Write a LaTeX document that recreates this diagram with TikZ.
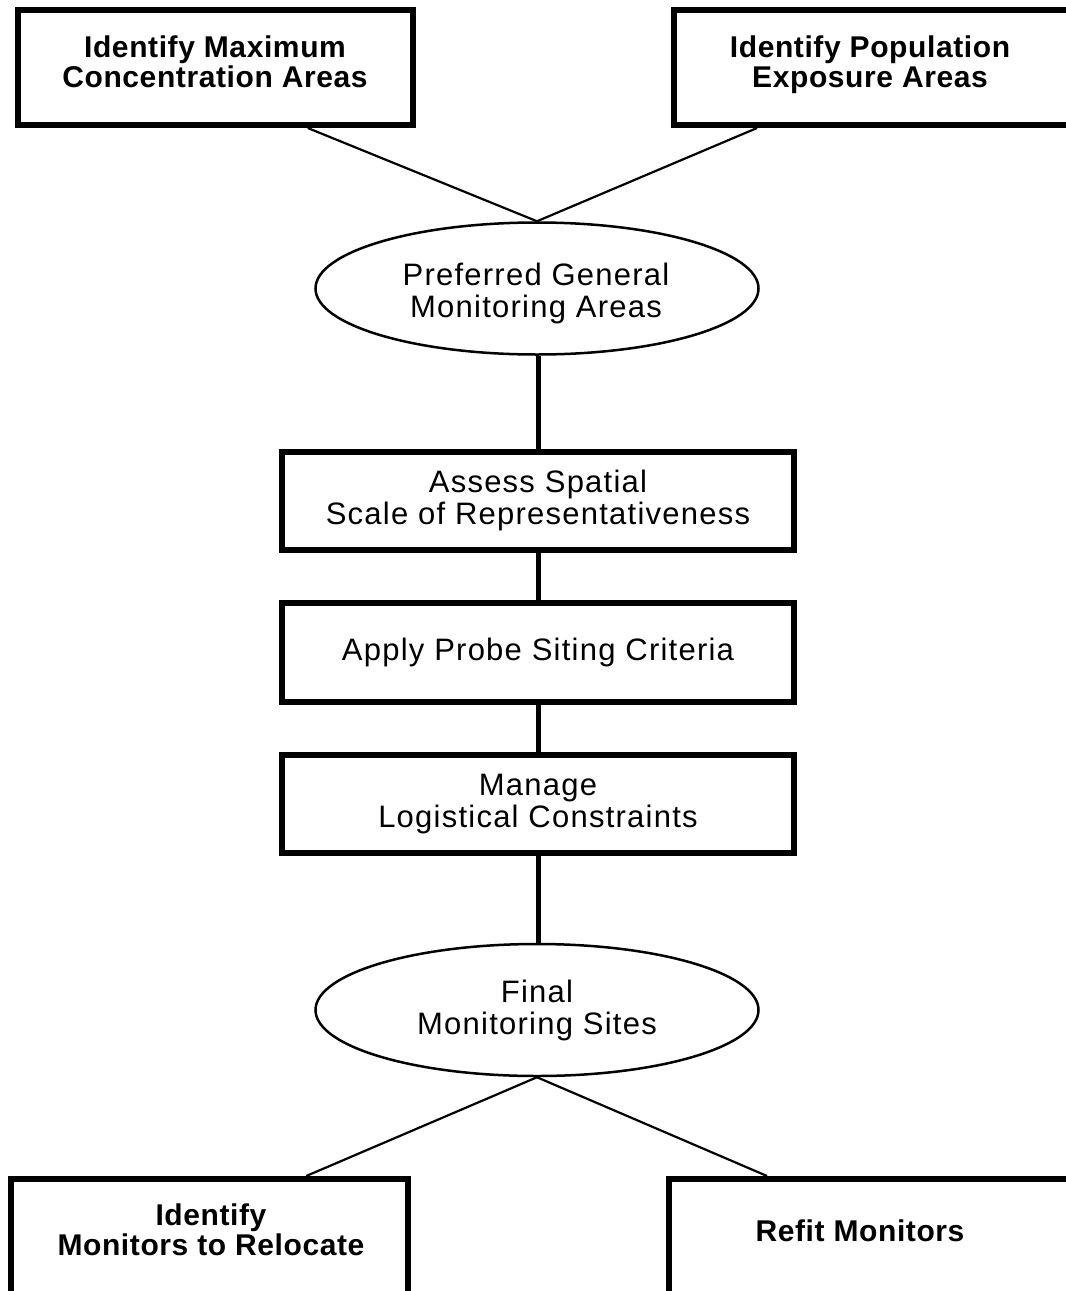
\documentclass[tikz,border=0pt]{standalone}
\usepackage{fontspec}
\setmainfont{Liberation Sans}
\newfontfamily\regfont[LetterSpace=4]{Liberation Sans}
\newfontfamily\boldfont[LetterSpace=2]{Liberation Sans}
\usetikzlibrary{shapes.geometric,calc}
\begin{document}
\begin{tikzpicture}[x=1pt,y=-1pt,
  box/.style={draw, rectangle, line width=6pt, inner sep=0pt},
  oval/.style={draw, ellipse, line width=2.5pt, inner sep=0pt, minimum width=443pt, minimum height=132pt},
  reg/.style={font=\regfont\fontsize{31}{32}\selectfont, align=center, inner sep=0pt},
  bld/.style={font=\boldfont\bfseries\fontsize{30}{30}\selectfont, align=center, inner sep=0pt},
  thick link/.style={line width=5pt},
  thin link/.style={line width=2.2pt}]
\useasboundingbox (0,0) rectangle (1066,1291);
\clip (0,0) rectangle (1066,1291);
\fill[white] (0,0) rectangle (1066,1291);

% top boxes
\node[box, minimum width=395pt, minimum height=115pt] (tl) at (215.5,67.5) {};
\node[bld] (tlt) at (215,62) {Identify Maximum\\Concentration Areas};
\node[box, minimum width=398pt, minimum height=115pt] (tr) at (873,67.5) {};
\node[bld] (trt) at (870,65) {Identify Population\\Exposure Areas};

% first ellipse
\node[oval] (e1) at (537,288.5) {};
\node[reg] (e1t) at (536,293) {Preferred General\\Monitoring Areas};

% middle boxes
\node[box, reg, minimum width=512pt, minimum height=98.5pt] (as) at (538,500.75) {Assess Spatial\\Scale of Representativeness};
\node[box, reg, minimum width=512pt, minimum height=98.5pt] (ap) at (538,652.25) {Apply Probe Siting Criteria};
\node[box, reg, minimum width=512pt, minimum height=98.5pt] (ma) at (538,803.75) {Manage\\Logistical Constraints};

% final ellipse
\node[oval, reg] (e2) at (537,1010) {Final\\Monitoring Sites};

% bottom boxes
\node[box, minimum width=397pt, minimum height=140pt] (bl) at (209.5,1249) {};
\node[bld] (blt) at (211,1230) {Identify\\Monitors to Relocate};
\node[box, minimum width=403pt, minimum height=140pt] (br) at (870.5,1249) {};
\node[bld] (brt) at (860,1231) {Refit Monitors};

% connectors
\draw[thin link] ($(tl.south west)!0.73!(tl.south east)$) -- (e1.north);
\draw[thin link] ($(tr.south west)!0.213!(tr.south east)$) -- (e1.north);
\draw[thick link] (as.north |- e1.south) -- (as.north);
\draw[thick link] (as.south) -- (ap.north);
\draw[thick link] (ap.south) -- (ma.north);
\draw[thick link] (ma.south) -- (ma.south |- e2.north);
\draw[thin link] (e2.south) -- ($(bl.north west)!0.74!(bl.north east)$);
\draw[thin link] (e2.south) -- ($(br.north west)!0.247!(br.north east)$);
\end{tikzpicture}
\end{document}
